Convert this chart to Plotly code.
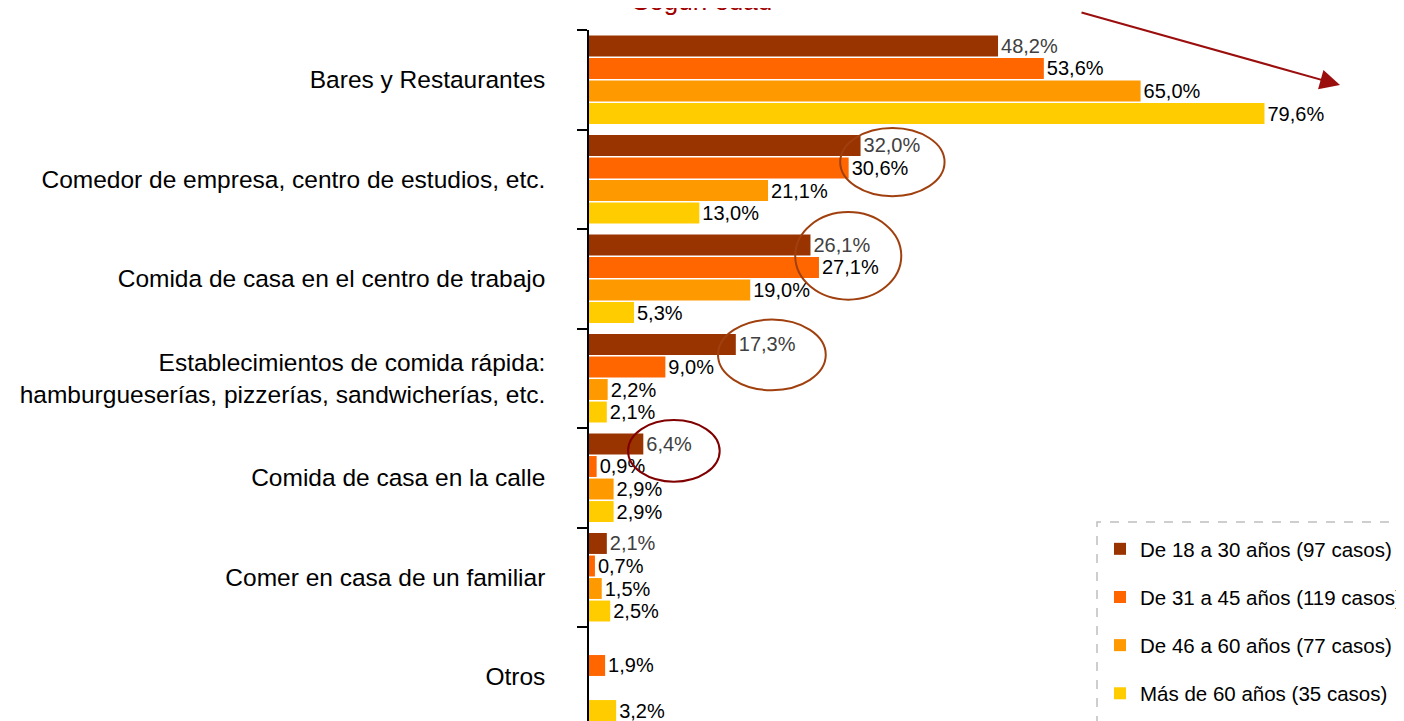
import plotly.graph_objects as go

categories = [
    "Bares y Restaurantes",
    "Comedor de empresa, centro de estudios, etc.",
    "Comida de casa en el centro de trabajo",
    "Establecimientos de comida rápida:<br>hamburgueserías, pizzerías, sandwicherías, etc.",
    "Comida de casa en la calle",
    "Comer en casa de un familiar",
    "Otros",
]
series_names = [
    "De 18 a 30 años (97 casos)",
    "De 31 a 45 años (119 casos)",
    "De 46 a 60 años (77 casos)",
    "Más de 60 años (35 casos)",
]
age_18_30 = [48.2, 32.0, 26.1, 17.3, 6.4, 2.1, None]
age_31_45 = [53.6, 30.6, 27.1, 9.0, 0.9, 0.7, 1.9]
age_46_60 = [65.0, 21.1, 19.0, 2.2, 2.9, 1.5, None]
age_60_plus = [79.6, 13.0, 5.3, 2.1, 2.9, 2.5, 3.2]
series_values = [age_18_30, age_31_45, age_46_60, age_60_plus]
colors = ["#993300", "#FF6600", "#FF9900", "#FFCC00"]
label_colors = ["#404040", "#000000", "#000000", "#000000"]

FONT = "Liberation Sans, Arial, sans-serif"


def fmt(v):
    return None if v is None else f"{v:.1f}%".replace(".", ",")


fig = go.Figure()
for i, (name, vals) in enumerate(zip(series_names, series_values)):
    fig.add_trace(go.Bar(
        y=categories, x=vals, orientation="h", name=name,
        marker=dict(color=colors[i], line=dict(width=0)),
        text=[fmt(v) for v in vals], textposition="outside",
        textfont=dict(size=20, color=label_colors[i], family=FONT),
        constraintext="none", cliponaxis=False,
        legendgroup=f"g{i}", hoverinfo="skip",
    ))

# the page body adds an 8px offset; screen coords = figure coords + OFF
OFF = 8
W, H = 1404, 721
L, R, T, B = 589 - OFF, 9, 30 - OFF, 0
pw, ph = W - L - R, H - T - B
SCALE = 8.486  # px per percentage point


def px(sx):
    return (sx - OFF - L) / pw


def py(sy):
    return 1 - (sy - OFF - T) / ph


# ellipses (data coordinates: x in %, y in category index)
ellipses = [
    (29.6, 41.9, 0.485, 1.17, "#A0400F"),
    (24.3, 36.8, 1.33, 2.21, "#A0400F"),
    (15.2, 27.9, 2.41, 3.12, "#A0400F"),
    (4.6, 15.4, 3.42, 4.04, "#800000"),
]
shapes = []
for x0, x1, y0, y1, c in ellipses:
    shapes.append(dict(type="circle", xref="x", yref="y", x0=x0, x1=x1, y0=y0, y1=y1,
                       line=dict(color=c, width=2)))
# dashed legend frame
shapes.append(dict(type="rect", xref="paper", yref="paper",
                   x0=px(1097), x1=px(1430), y0=py(760), y1=py(522),
                   line=dict(color="#BFBFBF", width=1.5, dash="dash")))

annotations = [
    dict(text="Según edad", xref="paper", yref="paper", x=px(702), y=py(1),
         showarrow=False, font=dict(size=26, color="#A00000", family=FONT),
         xanchor="center", yanchor="middle"),
    dict(text="", xref="paper", yref="paper", x=px(1340), y=py(85),
         ax=-260, ay=-73, showarrow=True, arrowhead=2, arrowsize=2,
         arrowwidth=2, arrowcolor="#9B0E0E"),
]

cat_px = 99.5
fig.update_layout(
    width=W, height=H,
    margin=dict(l=L, r=R, t=T, b=B, pad=0, autoexpand=False),
    paper_bgcolor="white", plot_bgcolor="white",
    barmode="group", bargap=0.095, bargroupgap=0.07,
    font=dict(family=FONT, color="#000000"),
    showlegend=True,
    legend=dict(x=px(1100), y=py(529), xanchor="left", yanchor="top",
                font=dict(size=20.5, family=FONT, color="#000000"),
                bgcolor="rgba(0,0,0,0)", borderwidth=0,
                traceorder="grouped", tracegroupgap=18.5),
    shapes=shapes, annotations=annotations,
    xaxis=dict(range=[0, pw / SCALE], showgrid=False, zeroline=False, showline=False,
               showticklabels=False, ticks="", fixedrange=True, automargin=False),
    yaxis=dict(type="category", range=[-0.5 + ph / cat_px, -0.5], showgrid=False,
               zeroline=False,
               showline=True, linecolor="#000000", linewidth=1.5,
               ticks="outside", ticklen=10, tickcolor="#000000", tickwidth=1.5,
               tickson="boundaries", ticklabelstandoff=37, automargin=False,
               tickfont=dict(size=24.5, family=FONT, color="#000000"),
               fixedrange=True),
)

fig.write_html("out.html")
